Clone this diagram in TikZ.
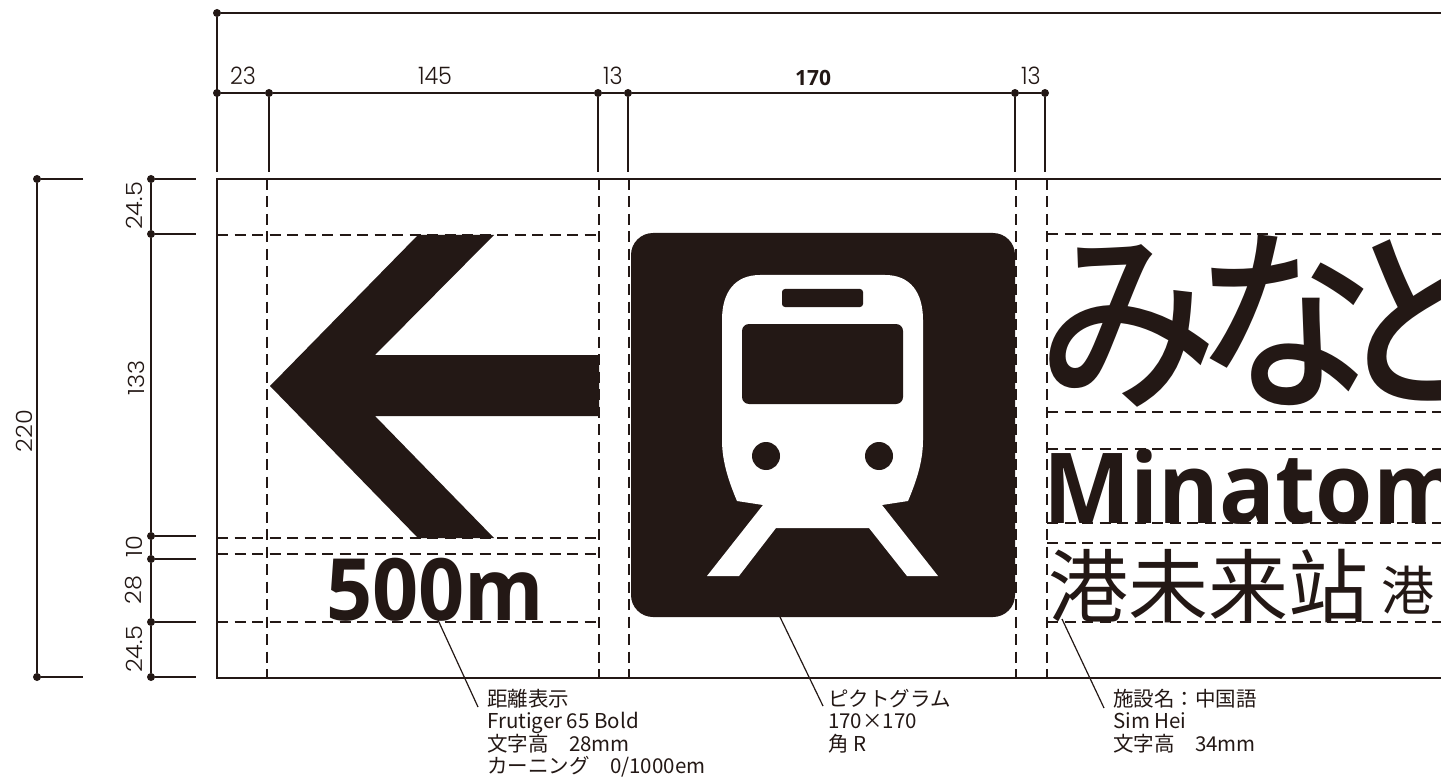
\documentclass[tikz,border=0pt]{standalone}
\usepackage{fontspec}
\setmainfont{Noto Sans CJK JP}
\newfontfamily\scfont{Noto Sans CJK SC}
\newfontfamily\jpmed{Noto Sans CJK JP Medium}
\newfontfamily\opensans{Open Sans}
\newfontfamily\dimfont{Poppins Light}
\definecolor{ink}{HTML}{231815}
\tikzset{
  ln/.style={draw=ink,line width=1.5pt},
  frameline/.style={draw=ink,line width=2.5pt},
  dashline/.style={draw=ink,line width=2.2pt,dash pattern=on 11pt off 6.5pt},
  dotnode/.style={circle,fill=ink,inner sep=0pt,minimum size=8pt},
  dimlab/.style={text=ink,inner sep=0pt,font=\dimfont\fontsize{24}{24}\selectfont,xscale=.93},
  noteline/.style={draw=ink,line width=1.2pt},
  notetext/.style={text=ink,inner sep=0pt,anchor=north west,align=left,font=\fontsize{20.5}{22.5}\selectfont},
  signtext/.style={text=ink,inner sep=0pt,anchor=base west},
  shapefill/.style={fill=ink,draw=none}
}
\begin{document}
\begin{tikzpicture}[x=1pt,y=-1pt]
\useasboundingbox (0,0) rectangle (1441,778);
\clip (0,0) rectangle (1441,778);
\fill[white] (0,0) rectangle (1441,778);
% sign text
\node[signtext,font=\jpmed\fontsize{197}{197}\selectfont] (name) at (1038,394) {\scalebox{.91}[1]{み\kern-24pt な\kern-46pt と\kern-24pt み}};
\node[signtext,font=\opensans\bfseries\fontsize{98}{98}\selectfont] (roman) at (1043,523) {\scalebox{.945}[1]{Minatomirai}};
\node[signtext,font=\scfont\fontsize{80}{80}\selectfont] (zh) at (1048,616) {港未来站};
\node[signtext,font=\scfont\fontsize{53}{53}\selectfont] (zhb) at (1381,610) {港\kern12pt 未来};
\node[signtext,font=\opensans\bfseries\fontsize{86}{86}\selectfont] (dist) at (326,620) {\scalebox{.94}[1]{500m}};
% arrow
\fill[shapefill] (270,386) -- (418,235) -- (494,235) -- (375,355) -- (599,355) -- (599,416) -- (375,416) -- (494,538) -- (418,538) -- cycle;
% pictogram
\fill[shapefill,rounded corners=22pt] (631,233) rectangle (1015,617);
\fill[white] (722,320) .. controls (722,292) and (735,275) .. (760,275) -- (885,275) .. controls (910,275) and (923,292) .. (923,320)
  -- (923,440) .. controls (923,462) and (916,482) .. (908,501) -- (882,505) -- (938,576) -- (907,576) -- (869,528) -- (776,528) -- (739,576) -- (707,576) -- (763,505) -- (737,501)
  .. controls (729,482) and (722,462) .. (722,440) -- cycle;
\fill[shapefill,rounded corners=7pt] (742,324) rectangle (903,404);
\fill[shapefill,rounded corners=3pt] (782,289) rectangle (863,307);
\fill[shapefill] (766,456) circle[radius=14pt] (879,456) circle[radius=14pt];
% dashed guides
\coordinate (vTa) at (267,179); \coordinate (vBa) at (267,678);
\coordinate (vTb) at (599,179); \coordinate (vBb) at (599,678);
\coordinate (vTc) at (629,179); \coordinate (vBc) at (629,678);
\coordinate (vTd) at (1016,179); \coordinate (vBd) at (1016,678);
\coordinate (vTe) at (1047,179); \coordinate (vBe) at (1047,678);
\foreach \s in {a,b,c,d,e} {\draw[dashline] (vT\s) -- (vB\s);}
\foreach \y/\s in {235/p,538/q,554/r,622/s} {
  \coordinate (hL\s) at (217,\y); \coordinate (hR\s) at (599,\y);
  \draw[dashline] (hL\s) -- (hR\s);}
\foreach \y/\s in {234/p,412/q,449/r,523/s,543/t,622/u} {
  \coordinate (kL\s) at (1047,\y); \coordinate (kR\s) at (1441,\y);
  \draw[dashline] (kL\s) -- (kR\s);}
% frame
\coordinate (fTR) at (1441,179); \coordinate (fTL) at (217,179);
\coordinate (fBL) at (217,678); \coordinate (fBR) at (1441,678);
\draw[frameline] (fTR) -- (fTL) -- (fBL) -- (fBR);
% top dimensions
\node[dotnode] (top) at (217,13) {};
\coordinate (topR) at (1441,13);
\draw[ln] (top) -- (topR);
\coordinate (t0b) at (217,172);
\draw[ln] (top) -- (t0b);
\foreach \x/\s in {217/a,269/b,598/c,628/d,1015/e,1045/f} {
  \node[dotnode] (t\s) at (\x,93) {};
  \coordinate (d\s) at (\x,172);
  \draw[ln] (t\s) -- (d\s);}
\draw[ln] (ta) -- (tb) -- (tc) -- (td) -- (te) -- (tf);
\node[dimlab] (l23) at (243,76) {23};
\node[dimlab] (l145) at (435,76) {145};
\node[dimlab] (l13a) at (613,76) {13};
\node[text=ink,inner sep=0pt,font=\opensans\fontsize{21}{21}\selectfont] (l170) at (813,78) {\textbf{170}};
\node[dimlab] (l13b) at (1031,76) {13};
% left dimensions
\node[dotnode] (oa) at (37,179) {};
\node[dotnode] (ob) at (37,677) {};
\coordinate (oaR) at (83,179); \coordinate (obR) at (83,677);
\draw[ln] (oaR) -- (oa) -- (ob) -- (obR);
\node[dimlab,rotate=90] (l220) at (24,431) {220};
\foreach \y/\s in {179/a,234/b,536/c,559/d,622/e,677/f} {
  \node[dotnode] (m\s) at (151,\y) {};
  \coordinate (mR\s) at (196,\y);
  \draw[ln] (m\s) -- (mR\s);}
\draw[ln] (ma) -- (mb) -- (mc) -- (md) -- (me) -- (mf);
\node[dimlab,rotate=90] (v1) at (134,206) {24.5};
\node[dimlab,rotate=90] (v2) at (136,378) {133};
\node[dimlab,rotate=90] (v3) at (134,547) {10};
\node[dimlab,rotate=90] (v4) at (134,590) {28};
\node[dimlab,rotate=90] (v5) at (134,649) {24.5};
% notes
\node[notetext] (n1) at (487,689) {距離表示\\Frutiger 65 Bold\\文字高　28mm\\カーニング　0/1000em};
\node[notetext] (n2) at (828,689) {ピクトグラム\\170×170\\角 R};
\node[notetext] (n3) at (1113,689) {施設名：中国語\\Sim Hei\\文字高　34mm};
\coordinate (a1) at (438,620); \coordinate (b1) at (478,707);
\coordinate (a2) at (780,617); \coordinate (b2) at (823,706);
\coordinate (a3) at (1062,619); \coordinate (b3) at (1104,708);
\draw[noteline] (a1) -- (b1);
\draw[noteline] (a2) -- (b2);
\draw[noteline] (a3) -- (b3);
\end{tikzpicture}
\end{document}
